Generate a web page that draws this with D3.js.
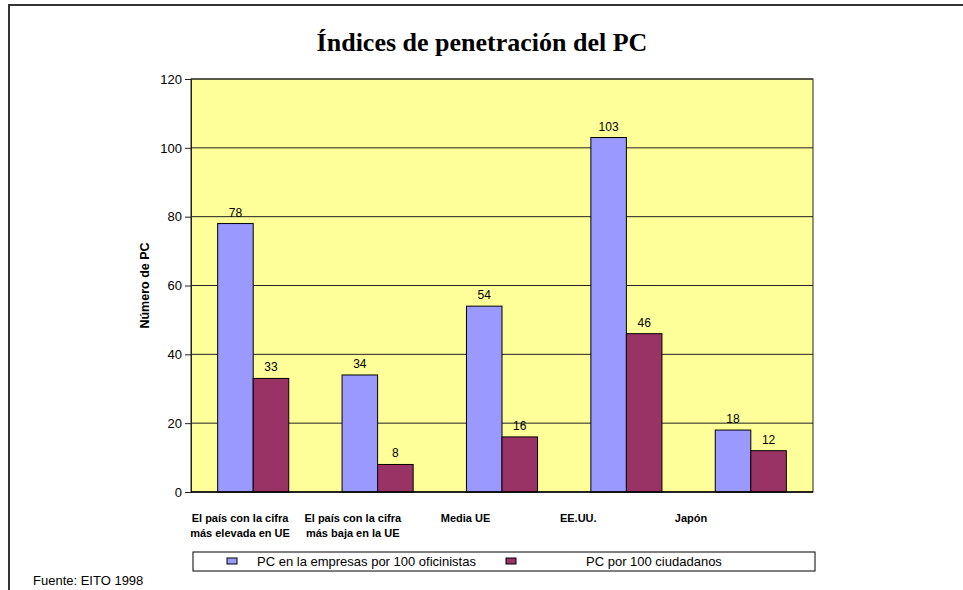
<!DOCTYPE html>
<html>
<head>
<meta charset="utf-8">
<script src="https://cdn.jsdelivr.net/npm/d3@7"></script>
<style>
  body { margin: 0; background: white; }
  svg text { font-family: "Liberation Sans", Arial, sans-serif; }
</style>
</head>
<body>
<div id="container1"></div>
<script>
// data
const categories = ['El país con la cifra\nmás elevada en UE', 'El país con la cifra\nmás baja en la UE', 'Media UE', 'EE.UU.', 'Japón'];
const seriesNames = ['PC en la empresas por 100 oficinistas', 'PC por 100 ciudadanos'];
const officeValues = [78, 34, 54, 103, 18];
const citizenValues = [33, 8, 16, 46, 12];
const yTicks = [0, 20, 40, 60, 80, 100, 120];

const width = 963;
const height = 590;
const plotLeft = 191, plotRight = 813, plotTop = 79, plotBottom = 492;
const colors = ['#9999ff', '#993366'];

let svg = d3.select('div#container1')
    .append('svg')
    .attr('width', width)
    .attr('height', height);

// outer frame (only top and left edges visible)
svg.append('path')
    .attr('d', `M9,${height} L9,5 L${width},5`)
    .style('fill', 'none')
    .style('stroke', '#333')
    .style('stroke-width', 2);

// title
svg.append('text')
    .attr('x', 482)
    .attr('y', 51)
    .attr('text-anchor', 'middle')
    .style('font-family', '"Liberation Serif", "Times New Roman", serif')
    .style('font-weight', 'bold')
    .style('font-size', '26px')
    .text('Índices de penetración del PC');

const xScale = d3.scaleBand()
    .domain(categories)
    .range([plotLeft, plotRight]);

const barW = xScale.bandwidth() / 3.5;

const yScale = d3.scaleLinear()
    .domain([0, 120])
    .range([plotBottom, plotTop]);

// plot area
svg.append('rect')
    .attr('x', plotLeft)
    .attr('y', plotTop)
    .attr('width', plotRight - plotLeft)
    .attr('height', plotBottom - plotTop)
    .style('fill', '#ffff99')
    .style('stroke', '#222')
    .style('stroke-width', 1);

// gridlines
svg.append('g')
    .selectAll('line')
    .data(yTicks.slice(1))
    .enter()
    .append('line')
    .attr('x1', plotLeft)
    .attr('x2', plotRight)
    .attr('y1', d => yScale(d))
    .attr('y2', d => yScale(d))
    .style('stroke', '#222')
    .style('stroke-width', 1);

// y axis
let yAxis = svg.append('g')
    .attr('transform', `translate(${plotLeft},0)`)
    .call(d3.axisLeft(yScale).tickValues(yTicks).tickSize(6).tickPadding(3).tickFormat(d3.format('d')));
yAxis.selectAll('text')
    .style('font-family', '"Liberation Sans", Arial, sans-serif')
    .style('font-size', '13px')
    .style('fill', '#000');
yAxis.selectAll('line, path').style('stroke', '#222');

svg.append('text')
    .attr('transform', `translate(149,${(plotTop + plotBottom) / 2}) rotate(-90)`)
    .attr('text-anchor', 'middle')
    .style('font-weight', 'bold')
    .style('font-size', '12.5px')
    .text('Número de PC');

// bars
const series = [officeValues, citizenValues];
series.forEach((vals, s) => {
    let g = svg.append('g');
    g.selectAll('rect')
        .data(vals)
        .enter()
        .append('rect')
        .attr('x', (d, i) => xScale(categories[i]) + barW * 0.75 + s * barW)
        .attr('y', d => yScale(d))
        .attr('width', barW)
        .attr('height', d => plotBottom - yScale(d))
        .style('fill', colors[s])
        .style('stroke', '#000')
        .style('stroke-width', 1);
    g.selectAll('text')
        .data(vals)
        .enter()
        .append('text')
        .attr('x', (d, i) => xScale(categories[i]) + barW * 0.75 + s * barW + barW / 2)
        .attr('y', d => yScale(d) - 7)
        .attr('text-anchor', 'middle')
        .style('font-size', '12px')
        .text(d => d);
});

// bottom axis line
svg.append('line')
    .attr('x1', plotLeft)
    .attr('x2', plotRight)
    .attr('y1', plotBottom)
    .attr('y2', plotBottom)
    .style('stroke', '#000')
    .style('stroke-width', 1.5);

// category labels (they sit left of their bars in the original)
const labelScale = d3.scalePoint()
    .domain(categories)
    .range([240, 691]);

let catLabels = svg.append('g')
    .selectAll('text')
    .data(categories)
    .enter()
    .append('text')
    .attr('text-anchor', 'middle')
    .style('font-weight', 'bold')
    .style('font-size', '11px');
catLabels.each(function(d) {
    d3.select(this).selectAll('tspan')
        .data(d.split('\n'))
        .enter()
        .append('tspan')
        .attr('x', labelScale(d))
        .attr('y', (t, j) => 522 + j * 15)
        .text(t => t);
});

// legend
let legend = svg.append('g');
legend.append('rect')
    .attr('x', 193)
    .attr('y', 552)
    .attr('width', 622)
    .attr('height', 19)
    .style('fill', 'white')
    .style('stroke', '#000')
    .style('stroke-width', 1);
const legendX = [227, 506];
const legendTextX = [257, 586];
seriesNames.forEach((name, s) => {
    legend.append('rect')
        .attr('x', legendX[s])
        .attr('y', 558)
        .attr('width', 10)
        .attr('height', 6)
        .style('fill', colors[s])
        .style('stroke', '#000')
        .style('stroke-width', 1);
    legend.append('text')
        .attr('x', legendTextX[s])
        .attr('y', 566)
        .style('font-size', '13px')
        .text(name);
});

// source note
svg.append('text')
    .attr('x', 33)
    .attr('y', 585)
    .style('font-size', '13px')
    .text('Fuente: EITO 1998');
</script>
</body>
</html>
